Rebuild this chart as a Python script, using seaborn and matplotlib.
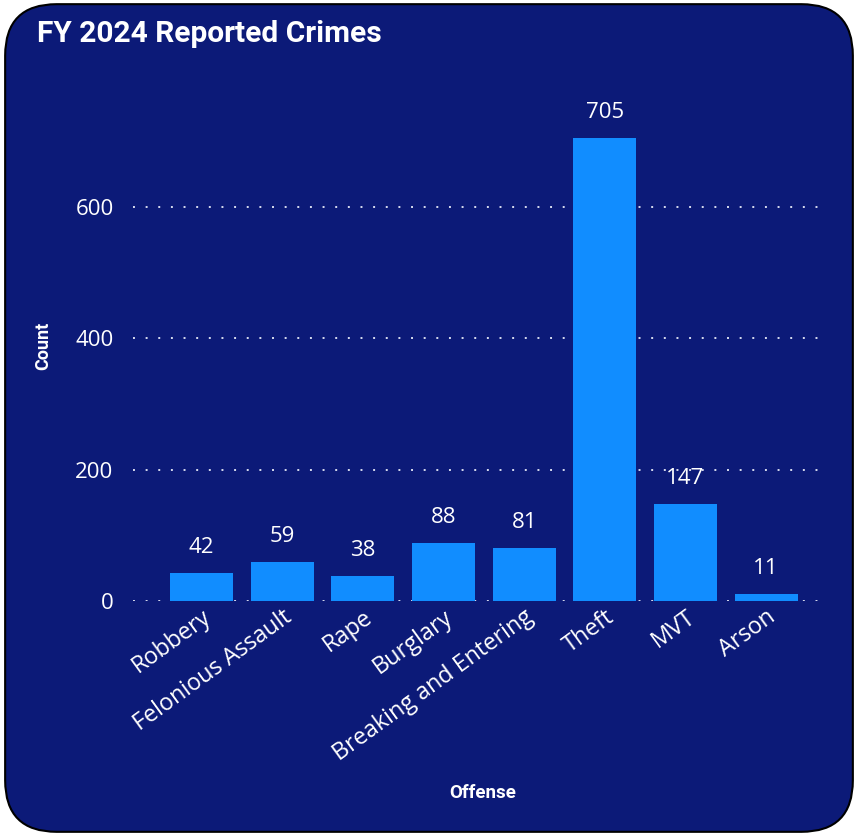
import pandas as pd
import matplotlib
matplotlib.use('Agg')
import matplotlib.pyplot as plt
import seaborn as sns
from matplotlib.patches import FancyBboxPatch

offenses = ['Robbery', 'Felonious Assault', 'Rape', 'Burglary',
            'Breaking and Entering', 'Theft', 'MVT', 'Arson']
counts = [42, 59, 38, 88, 81, 705, 147, 11]
y_ticks = [0, 200, 400, 600]

df = pd.DataFrame({'Offense': offenses, 'Count': counts})

bg = '#0C1A78'
bar_color = '#118DFF'

sns.set_style('dark')
plt.rcParams['font.family'] = ['Open Sans', 'DejaVu Sans']

fig = plt.figure(figsize=(8.58, 8.36), dpi=100)
fig.patch.set_facecolor('white')

# rounded card behind everything
card = FancyBboxPatch((0.006, 0.005), 0.988, 0.99,
                      boxstyle='round,pad=0,rounding_size=0.06',
                      mutation_aspect=858 / 836,
                      transform=fig.transFigure, facecolor=bg,
                      edgecolor='black', linewidth=1.5, zorder=-10)
fig.patches.append(card)

ax = fig.add_axes([0.155, 0.281, 0.8065, 0.599])
ax.set_zorder(5)
ax.set_facecolor('none')

sns.barplot(data=df, x='Offense', y='Count', color=bar_color,
            width=0.78, saturation=1, linewidth=0, ax=ax, zorder=3)

ax.set_ylim(0, 762)
ax.set_xlim(-0.85, 7.73)
ax.set_yticks(y_ticks)
ax.yaxis.grid(True, linestyle=(0, (1, 5.5)), color='#D8DCEF', linewidth=1.4)
ax.xaxis.grid(False)
ax.set_axisbelow(True)
for s in ax.spines.values():
    s.set_visible(False)
ax.tick_params(axis='both', length=0, colors='white', labelsize=16)
ax.tick_params(axis='x', labelsize=16.8, pad=3)
ax.tick_params(axis='y', pad=14)
plt.setp(ax.get_xticklabels(), rotation=36, ha='right',
         rotation_mode='anchor')

ax.bar_label(ax.containers[0], padding=11, color='white', fontsize=16)

ax.set_ylabel('Count', color='white', fontsize=13, fontweight='bold',
              family=['Roboto', 'DejaVu Sans'])
ax.set_xlabel('Offense', color='white', fontsize=13.5, fontweight='bold',
              family=['Roboto', 'DejaVu Sans'])
ax.yaxis.set_label_coords(-0.117, 0.51)
ax.xaxis.set_label_coords(0.506, -0.366)

fig.text(0.043, 0.959, 'FY 2024 Reported Crimes', color='white',
         fontsize=21.5, fontweight='bold', va='center', ha='left',
         family=['Roboto', 'DejaVu Sans'], zorder=6)

fig.savefig('out.png', dpi=100, facecolor=fig.get_facecolor())
